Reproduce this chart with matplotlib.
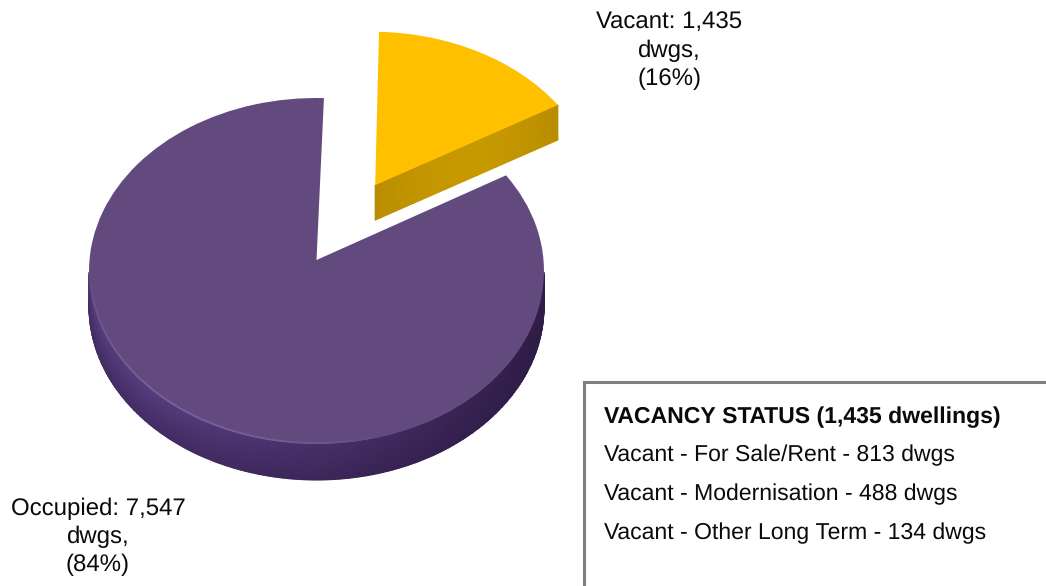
import numpy as np
from matplotlib import pyplot as plt
from matplotlib.colors import LinearSegmentedColormap
from matplotlib.collections import LineCollection
from matplotlib.patches import Rectangle
from matplotlib.transforms import Transform

plt.rcParams['font.family'] = ['Liberation Sans', 'DejaVu Sans']
plt.rcParams['text.hinting'] = 'no_hinting'
plt.rcParams['text.hinting_factor'] = 1

# data
slice_names = ['Vacant', 'Occupied']
dwellings = [1435, 7547]
slice_labels = ['Vacant: 1,435\ndwgs,\n(16%)', 'Occupied: 7,547\ndwgs,\n(84%)']
box_title = 'VACANCY STATUS (1,435 dwellings)'
box_lines = ['Vacant - For Sale/Rent - 813 dwgs',
             'Vacant - Modernisation - 488 dwgs',
             'Vacant - Other Long Term - 134 dwgs']

# look of the fake 3D pie
APEX = (316.5, 260)
RX, RY, PERSP = 227, 172.3, 0.0636
DEPTH = 36
top_colors = ['#FFC000', '#634A7E']
rim_cmaps = [LinearSegmentedColormap.from_list('y', ['#A67E00', '#C99A00']),
             LinearSegmentedColormap.from_list('p', ['#2E1B45', '#5A4084'])]


def project(xy):
    '''unit pie coordinates -> picture pixels, with a bit of perspective'''
    xy = np.asarray(xy, dtype=float)
    w = 1 + PERSP * xy[..., 1]
    return np.stack([APEX[0] + RX * xy[..., 0] / w, APEX[1] - RY * xy[..., 1] / w], axis=-1)


class PieProjection(Transform):
    input_dims = 2
    output_dims = 2
    has_inverse = False

    def transform_non_affine(self, values):
        return project(values)


fig = plt.figure(figsize=(10.46, 5.86), dpi=100)
ax = fig.add_axes([0, 0, 1, 1])
wedges, _ = ax.pie(dwellings, startangle=88, counterclock=False, explode=[0.52, 0],
                   colors=top_colors, wedgeprops={'linewidth': 0})
ax.set_aspect('auto')
ax.set_xlim(0, 1046)
ax.set_ylim(586, 0)

proj = PieProjection() + ax.transData

# occupied side wall, only the front half shows
occ = wedges[1]
t = np.radians(np.linspace(184, 356, 301))
edge = project(np.column_stack([np.cos(t), np.sin(t)]))
d = np.linspace(0, 1, 8)[:, None]
X = np.repeat(edge[:, 0][None, :], 8, axis=0)
Y = edge[:, 1][None, :] + d * DEPTH
light = np.clip(0.5 + 0.6 * np.cos(t - np.radians(190)), 0, 1) * 0.85 + 0.05
C = light[None, :] * (1 - 0.45 * d)
ax.pcolormesh(X, Y, C, cmap=rim_cmaps[1], vmin=0, vmax=1, shading='gouraud', zorder=1)
occ.set_transform(proj)
occ.set_zorder(2)

# soft highlight on the lower left edge of the top face
ht = np.radians(np.linspace(185, 285, 101))
hp = project(np.column_stack([0.995 * np.cos(ht), 0.995 * np.sin(ht)]))
segs = np.stack([hp[:-1], hp[1:]], axis=1)
alpha = 0.7 * np.sin(np.linspace(0, np.pi, 100)) ** 0.8
ax.add_collection(LineCollection(segs, colors=[(0.52, 0.41, 0.66, a) for a in alpha],
                                 linewidths=1.3, zorder=3))

# vacant cut face, then its top
vac = wedges[0]
cx, cy = vac.center
r = np.radians(vac.theta1 if vac.theta1 < vac.theta2 else vac.theta2)
s = np.linspace(0, 1, 30)
cut = project(np.column_stack([cx + s * np.cos(r), cy + s * np.sin(r)]))
X = np.repeat(cut[:, 0][None, :], 2, axis=0)
Y = cut[:, 1][None, :] + np.array([[0], [35]])
C = np.repeat((0.55 + 0.4 * np.sin(s * np.pi))[None, :], 2, axis=0)
ax.pcolormesh(X, Y, C, cmap=rim_cmaps[0], vmin=0, vmax=1, shading='gouraud', zorder=4)
vac.set_transform(proj)
vac.set_zorder(5)

ax.text(669.5, 50.5, slice_labels[0], fontsize=17.4, ha='center', va='center', linespacing=1.34, color='#0A0A0A')
ax.text(98, 537, slice_labels[1], fontsize=17.4, ha='center', va='center', linespacing=1.34, color='#0A0A0A')

# vacancy box runs off the right and bottom of the picture
ax.add_patch(Rectangle((584, 382), 600, 300, facecolor='white', edgecolor='#7F7F7F', linewidth=2.2, zorder=6))
ax.text(604, 417, box_title, fontsize=16.45, fontweight='bold', va='center', color='#0A0A0A', zorder=7)
for y, line in zip([455, 494, 533], box_lines):
    ax.text(604, y, line, fontsize=16.45, va='center', color='#0A0A0A', zorder=7)

fig.savefig('out.png', dpi=100)
